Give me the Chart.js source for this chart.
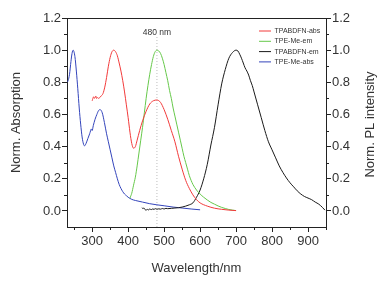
<!DOCTYPE html>
<html>
<head>
<meta charset="utf-8">
<script src="https://cdn.jsdelivr.net/npm/chart.js@4.4.1/dist/chart.umd.min.js"></script>
<style>
  html, body { margin: 0; padding: 0; background: #fff; }
  canvas { display: block; }
</style>
</head>
<body>
<canvas id="spectraChart" width="387" height="283"></canvas>
<script>
// ---------- data ----------
const xTicks = [300, 400, 500, 600, 700, 800, 900];
const xMinor = [250, 350, 450, 550, 650, 750, 850, 950];
const yTicks = [0, 0.2, 0.4, 0.6, 0.8, 1.0, 1.2];
const yMinor = [0.1, 0.3, 0.5, 0.7, 0.9, 1.1];

// TPABDFN-abs (red)
const redWl = [300, 302, 304, 306, 308, 310, 312, 315, 318, 321, 325, 330, 335, 340, 345, 350, 355, 360, 365, 370, 375, 380, 385, 390, 395, 400, 405, 410, 415, 420, 425, 432, 440, 450, 460, 470, 480, 490, 500, 510, 520, 530, 540, 550, 560, 570, 580, 590, 600, 620, 640, 660, 680, 700];
const redVal = [0.685, 0.70, 0.71, 0.70, 0.705, 0.715, 0.70, 0.705, 0.70, 0.705, 0.715, 0.73, 0.77, 0.83, 0.90, 0.955, 0.99, 1.0, 0.99, 0.965, 0.92, 0.87, 0.81, 0.74, 0.66, 0.58, 0.49, 0.42, 0.39, 0.40, 0.44, 0.50, 0.56, 0.62, 0.665, 0.685, 0.69, 0.675, 0.63, 0.57, 0.50, 0.43, 0.34, 0.26, 0.19, 0.14, 0.10, 0.07, 0.05, 0.03, 0.017, 0.01, 0.005, 0.002];

// TPE-Me-em (green)
const greenWl = [405, 410, 415, 420, 425, 430, 435, 440, 445, 450, 455, 460, 465, 470, 475, 480, 485, 490, 495, 500, 505, 510, 515, 520, 525, 530, 535, 540, 545, 550, 555, 560, 565, 570, 575, 580, 590, 600, 610, 620, 630, 640, 650, 660, 670, 680, 690, 700];
const greenVal = [0.08, 0.11, 0.16, 0.21, 0.28, 0.36, 0.44, 0.52, 0.61, 0.70, 0.78, 0.85, 0.91, 0.96, 0.99, 1.0, 0.995, 0.98, 0.95, 0.91, 0.86, 0.81, 0.75, 0.70, 0.64, 0.59, 0.54, 0.49, 0.44, 0.39, 0.34, 0.30, 0.26, 0.22, 0.19, 0.165, 0.13, 0.105, 0.085, 0.068, 0.053, 0.042, 0.031, 0.022, 0.015, 0.009, 0.005, 0.002];

// TPABDFN-em (black)
const blackWl = [438, 441, 444, 447, 450, 453, 456, 460, 464, 468, 472, 476, 480, 485, 490, 495, 500, 505, 510, 520, 530, 540, 550, 560, 570, 580, 590, 600, 610, 620, 630, 640, 650, 660, 670, 680, 690, 700, 705, 710, 715, 720, 725, 730, 735, 740, 745, 750, 760, 770, 780, 790, 800, 810, 820, 830, 840, 850, 860, 870, 880, 890, 900, 910, 920, 930, 940, 947];
const blackVal = [0.02, 0.015, 0.018, 0.008, 0.005, 0.01, 0.006, 0.012, 0.008, 0.012, 0.01, 0.014, 0.01, 0.013, 0.011, 0.015, 0.012, 0.016, 0.014, 0.016, 0.018, 0.02, 0.024, 0.03, 0.038, 0.05, 0.085, 0.13, 0.2, 0.29, 0.41, 0.52, 0.66, 0.79, 0.88, 0.95, 0.985, 1.0, 0.995, 0.975, 0.95, 0.92, 0.89, 0.87, 0.845, 0.81, 0.78, 0.74, 0.66, 0.58, 0.50, 0.43, 0.38, 0.33, 0.28, 0.24, 0.205, 0.175, 0.15, 0.125, 0.105, 0.09, 0.08, 0.07, 0.055, 0.042, 0.022, 0.005];

// TPE-Me-abs (blue)
const blueWl = [230, 233, 237, 241, 244, 247, 252, 256, 260, 264, 268, 272, 276, 279, 283, 288, 293, 298, 300, 303, 308, 313, 318, 322, 328, 334, 340, 345, 350, 355, 360, 365, 370, 375, 380, 385, 390, 395, 400, 410, 420, 440, 460, 480, 500, 525, 550, 575, 600];
const blueVal = [0.80, 0.81, 0.85, 0.93, 0.98, 1.0, 0.96, 0.87, 0.76, 0.64, 0.54, 0.46, 0.415, 0.405, 0.42, 0.45, 0.48, 0.51, 0.50, 0.53, 0.57, 0.60, 0.625, 0.63, 0.61, 0.55, 0.48, 0.43, 0.38, 0.33, 0.28, 0.24, 0.20, 0.165, 0.14, 0.12, 0.105, 0.095, 0.085, 0.072, 0.065, 0.055, 0.045, 0.038, 0.032, 0.024, 0.018, 0.012, 0.007];

// 480 nm marker
const markerWl = [480, 480];
const markerVal = [-0.1, 1.085];

const FONT = "'Liberation Sans', Arial, sans-serif";
const TEXT = "#333333";
const AXIS = "#222222";

function toPoints(xs, ys) {
  return xs.map((x, i) => ({ x: x, y: ys[i] }));
}

function lineSet(label, xs, ys, color, axis) {
  return {
    label: label,
    data: toPoints(xs, ys),
    borderColor: color,
    backgroundColor: color,
    borderWidth: 1,
    pointRadius: 0,
    cubicInterpolationMode: "monotone",
    yAxisID: axis
  };
}

// ---------- extra drawing: minor ticks, top frame, labels, legend placement ----------
const extras = {
  id: "extras",
  afterLayout(chart) {
    const legend = chart.legend;
    const pad = 3.3;
    legend.left = 259 - pad;
    legend.top = 27.5 - pad;
    legend.right = legend.left + legend.width;
    legend.bottom = legend.top + 60;
  },
  afterDraw(chart) {
    const { ctx, chartArea, scales } = chart;
    const area = chartArea;
    ctx.save();
    ctx.strokeStyle = AXIS;
    ctx.lineWidth = 1;

    ctx.beginPath();
    ctx.moveTo(area.left, Math.round(area.top) + 0.5);
    ctx.lineTo(area.right + 0.5, Math.round(area.top) + 0.5);
    ctx.stroke();

    ctx.beginPath();
    xMinor.forEach(v => {
      const px = Math.round(scales.x.getPixelForValue(v)) + 0.5;
      ctx.moveTo(px, area.bottom);
      ctx.lineTo(px, area.bottom + 3);
    });
    yMinor.forEach(v => {
      const py = Math.round(scales.y.getPixelForValue(v)) + 0.5;
      ctx.moveTo(area.left - 3, py);
      ctx.lineTo(area.left, py);
      ctx.moveTo(area.right, py);
      ctx.lineTo(area.right + 3, py);
    });
    ctx.stroke();

    ctx.fillStyle = TEXT;
    ctx.font = "8.5px " + FONT;
    ctx.textAlign = "center";
    ctx.textBaseline = "middle";
    ctx.fillText("480 nm", scales.x.getPixelForValue(480), 33);

    ctx.font = "13px " + FONT;
    ctx.translate(370, (area.top + area.bottom) / 2 + 2);
    ctx.rotate(-Math.PI / 2);
    ctx.fillText("Norm. PL intensity", 0, 0);
    ctx.restore();
  }
};

const tickFont = { family: FONT, size: 13 };

new Chart(document.getElementById("spectraChart"), {
  type: "line",
  data: {
    datasets: [
      lineSet("TPABDFN-abs", redWl, redVal, "#f23a3a", "y"),
      lineSet("TPE-Me-em", greenWl, greenVal, "#66c84a", "y2"),
      lineSet("TPABDFN-em", blackWl, blackVal, "#1a1a1a", "y2"),
      lineSet("TPE-Me-abs", blueWl, blueVal, "#3344bb", "y"),
      {
        label: "",
        data: toPoints(markerWl, markerVal),
        borderColor: "#bdbdbd",
        borderWidth: 1,
        borderDash: [1, 2],
        pointRadius: 0,
        yAxisID: "y"
      }
    ]
  },
  options: {
    responsive: false,
    animation: false,
    layout: { padding: { top: 18, left: 0, right: 0, bottom: 0 } },
    plugins: {
      tooltip: { enabled: false },
      legend: {
        position: "chartArea",
        align: "start",
        labels: {
          usePointStyle: true,
          pointStyle: "line",
          pointStyleWidth: 12,
          boxHeight: 7,
          padding: 3.3,
          color: TEXT,
          font: { family: FONT, size: 7 },
          filter: item => item.text !== ""
        }
      }
    },
    scales: {
      x: {
        type: "linear",
        position: "bottom",
        min: 230,
        max: 950,
        afterBuildTicks: scale => { scale.ticks = xTicks.map(v => ({ value: v })); },
        afterFit: scale => { scale.height = 56; },
        ticks: { color: TEXT, font: tickFont, padding: 2, maxRotation: 0, callback: v => String(v) },
        grid: { drawOnChartArea: false, tickLength: 5, tickColor: AXIS },
        border: { color: AXIS, width: 1 },
        title: {
          display: true,
          text: "Wavelength/nm",
          color: TEXT,
          font: { family: FONT, size: 13 },
          padding: { top: 0, bottom: 7 }
        }
      },
      y: {
        type: "linear",
        position: "left",
        min: -0.1,
        max: 1.2,
        afterBuildTicks: scale => { scale.ticks = yTicks.map(v => ({ value: v })); },
        afterFit: scale => { scale.width = 67; },
        ticks: { color: TEXT, font: tickFont, padding: 1, callback: v => v.toFixed(1) },
        grid: { drawOnChartArea: false, tickLength: 5, tickColor: AXIS },
        border: { color: AXIS, width: 1 },
        title: {
          display: true,
          text: "Norm. Absorption",
          color: TEXT,
          font: { family: FONT, size: 13 },
          padding: { top: 9, bottom: 0 }
        }
      },
      y2: {
        type: "linear",
        position: "right",
        min: -0.1,
        max: 1.2,
        afterBuildTicks: scale => { scale.ticks = yTicks.map(v => ({ value: v })); },
        afterFit: scale => { scale.width = 61; },
        ticks: { color: TEXT, font: tickFont, padding: 1, callback: v => v.toFixed(1) },
        grid: { drawOnChartArea: false, tickLength: 5, tickColor: AXIS },
        border: { color: AXIS, width: 1 }
      }
    }
  },
  plugins: [extras]
});
</script>
</body>
</html>
